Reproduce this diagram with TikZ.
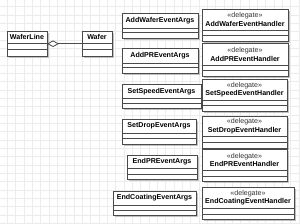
\documentclass[tikz,border=0pt]{standalone}
\usepackage{fontspec}
\setmainfont{Liberation Sans}
\usetikzlibrary{calc,shadows,arrows.meta}
\definecolor{gridc}{HTML}{ECECEC}
\definecolor{boxline}{HTML}{4A4A4A}
\tikzset{
  gridline/.style={draw=gridc, line width=0.6pt},
  classbox/.style={draw=boxline, fill=white, line width=0.8pt, inner sep=0pt, outer sep=0pt,
    drop shadow={shadow xshift=1.6pt, shadow yshift=-1.6pt, fill=black!30, opacity=0.8}},
  clsline/.style={draw=boxline, line width=0.8pt},
  clstext/.style={font=\fontsize{7.1}{8.6}\selectfont\bfseries, inner sep=0pt, align=center, text=black},
  aggr/.style={draw=boxline, line width=0.8pt, -{Diamond[open, length=12pt, width=6.5pt, line width=0.8pt]}}
}
\newcommand\UMLcls[8]{%
  \pgfmathsetmacro\clsw{#3-#2}%
  \pgfmathsetmacro\clsh{#5+#6+#7}%
  \node[classbox, minimum width=\clsw pt, minimum height=\clsh pt, anchor=north west] (#1) at (#2,#4) {};
  \node[clstext] (#1-t) at ($(#1.north)+(0,#5/2)$) {#8};
  \draw[clsline] ($(#1.north west)+(0,#5)$) -- ($(#1.north east)+(0,#5)$);
  \draw[clsline] ($(#1.north west)+(0,#5+#6)$) -- ($(#1.north east)+(0,#5+#6)$);
}
\newcommand\Dlg[1]{{\mdseries\color{black!80}«delegate»}\\#1}
\begin{document}
\begin{tikzpicture}[x=1pt,y=-1pt]
\useasboundingbox[fill=white] (0,0) rectangle (300,224);
\foreach \i in {0,...,36} \draw[gridline] ({-1+8.333*\i},0) -- ({-1+8.333*\i},224);
\foreach \j in {0,...,26} \draw[gridline] (0,{6.7+8.333*\j}) -- (300,{6.7+8.333*\j});
% left classes
\UMLcls{wl}{7}{47}{31.5}{11.5}{6}{7}{WaferLine}
\UMLcls{wf}{82}{112}{31.5}{11.5}{6}{7}{Wafer}
\draw[aggr] (wf.west) -- (wf.west -| wl.east);
% event args
\UMLcls{a1}{122}{198}{13}{15}{4.5}{5.5}{AddWaferEventArgs}
\UMLcls{a2}{122}{198}{48}{15}{4.5}{5.5}{AddPREventArgs}
\UMLcls{a3}{122}{201}{84.5}{14}{5}{5}{SetSpeedEventArgs}
\UMLcls{a4}{122}{196}{119}{14.5}{5}{5.5}{SetDropEventArgs}
\UMLcls{a5}{127}{197}{155}{13.5}{5.5}{5.5}{EndPREventArgs}
\UMLcls{a6}{113}{196}{191}{14}{5.5}{5}{EndCoatingEventArgs}
% handlers
\UMLcls{h1}{202}{288}{9}{21}{5.5}{5.5}{\Dlg{AddWaferEventHandler}}
\UMLcls{h2}{202}{288}{43.5}{21.5}{5.5}{5.5}{\Dlg{AddPREventHandler}}
\UMLcls{h3}{202}{287}{79}{21}{5.5}{5.5}{\Dlg{SetSpeedEventHandler}}
\UMLcls{h4}{202}{287}{116}{20.5}{6}{5.5}{\Dlg{SetDropEventHandler}}
\UMLcls{h5}{202}{287}{149.5}{21}{5.5}{5.5}{\Dlg{EndPREventHandler}}
\UMLcls{h6}{202}{294}{187}{21}{6}{5}{\Dlg{EndCoatingEventHandler}}
\end{tikzpicture}
\end{document}
